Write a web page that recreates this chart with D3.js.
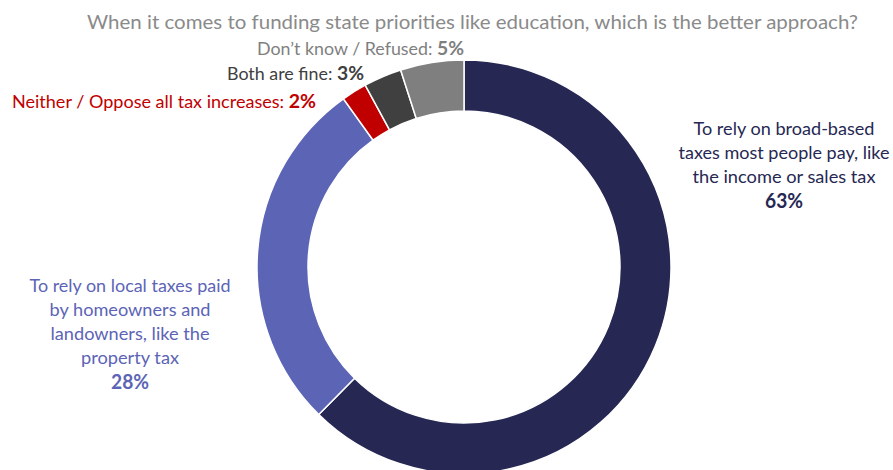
<!DOCTYPE html>
<html>
<head>
<meta charset="utf-8">
<script src="https://cdn.jsdelivr.net/npm/d3@7"></script>
<style>
  html, body { margin: 0; padding: 0; background: #fff; }
  svg { display: block; font-family: Lato, "Open Sans", sans-serif; }
</style>
</head>
<body>
<svg id="chart" width="893" height="470"></svg>
<script>
// Survey answers, clockwise from 12 o'clock
const categories = [
  "To rely on broad-based taxes most people pay, like the income or sales tax",
  "To rely on local taxes paid by homeowners and landowners, like the property tax",
  "Neither / Oppose all tax increases",
  "Both are fine",
  "Don\u2019t know / Refused"
];
const values = [63, 28, 2, 3, 5];
const colors = ["#262853", "#5C64B6", "#C00000", "#404040", "#7F7F7F"];
const title = "When it comes to funding state priorities like education, which is the better approach?";

// wrapped lines for the two large answers
const broadLines = ["To rely on broad-based", "taxes most people pay, like", "the income or sales tax"];
const localLines = ["To rely on local taxes paid", "by homeowners and", "landowners, like the", "property tax"];

const svg = d3.select("#chart");
const cx = 464, cy = 267, outerR = 207, innerR = 156;

const pie = d3.pie().sort(null).value(d => d.value).startAngle(0).endAngle(2 * Math.PI);
const arc = d3.arc().innerRadius(innerR).outerRadius(outerR);
const data = categories.map((c, i) => ({ name: c, value: values[i], color: colors[i] }));

svg.append("g")
  .attr("transform", `translate(${cx},${cy})`)
  .selectAll("path")
  .data(pie(data))
  .join("path")
  .attr("d", arc)
  .attr("fill", d => d.data.color)
  .attr("stroke", "#fff")
  .attr("stroke-width", 1.5);

const pct = v => v + "%";

// title
svg.append("text")
  .attr("x", 472.5).attr("y", 29)
  .attr("text-anchor", "middle")
  .attr("fill", "#8A8A8A")
  .attr("font-size", 19)
  .attr("textLength", 771)
  .attr("lengthAdjust", "spacingAndGlyphs")
  .text(title);

// inline labels for the small slices
const small = [
  { i: 4, x: 464, y: 55, w: 207 },
  { i: 3, x: 364, y: 80, w: 137 },
  { i: 2, x: 316, y: 108, w: 304 }
];
small.forEach(s => {
  const t = svg.append("text")
    .attr("x", s.x).attr("y", s.y)
    .attr("text-anchor", "end")
    .attr("fill", colors[s.i])
    .attr("font-size", 18)
    .attr("textLength", s.w)
    .attr("lengthAdjust", "spacingAndGlyphs");
  t.append("tspan").text(categories[s.i] + ": ");
  t.append("tspan").attr("font-weight", "bold").attr("font-size", 19.5).text(pct(values[s.i]));
});

// block labels for the large slices
function block(lines, value, color, x, ys, widths) {
  const g = svg.append("g").attr("fill", color).attr("font-size", 18).attr("text-anchor", "middle");
  lines.forEach((l, k) => {
    g.append("text").attr("x", x).attr("y", ys[k])
      .attr("textLength", widths[k]).attr("lengthAdjust", "spacingAndGlyphs")
      .text(l);
  });
  g.append("text").attr("x", x).attr("y", ys[lines.length])
    .attr("font-weight", "bold").attr("font-size", 20)
    .attr("textLength", 38).attr("lengthAdjust", "spacingAndGlyphs")
    .text(pct(value));
}
block(broadLines, values[0], colors[0], 784, [135, 159, 183, 208], [181, 211, 183]);
block(localLines, values[1], colors[1], 130, [292, 316, 340, 364, 389], [201, 161, 159, 98]);
</script>
</body>
</html>
